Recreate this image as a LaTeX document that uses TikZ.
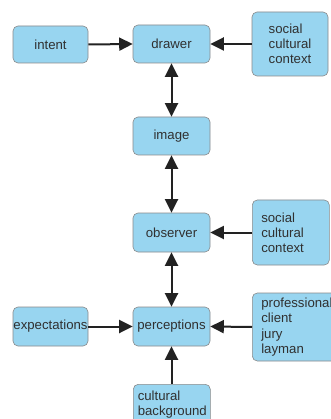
\documentclass[tikz,border=0pt]{standalone}
\usepackage{fontspec}
\setmainfont{Liberation Sans}
\usetikzlibrary{arrows.meta}
\definecolor{boxfill}{HTML}{98D5F0}
\definecolor{boxline}{HTML}{8A8A8A}
\definecolor{txtcol}{HTML}{303030}
\definecolor{arrcol}{HTML}{222222}
\tikzset{
  box/.style={draw=boxline, fill=boxfill, line width=0.6pt, rounded corners=5pt,
    text=txtcol, font=\fontsize{13.2}{15.2}\selectfont, inner xsep=0pt, inner ysep=0pt},
  multibox/.style={box, align=left},
  arr/.style={draw=arrcol, line width=2pt, -{Triangle[length=13.5pt,width=13pt]}},
  darr/.style={draw=arrcol, line width=2pt, {Triangle[length=13.5pt,width=13pt]}-{Triangle[length=13.5pt,width=13pt]}}
}
\begin{document}
\begin{tikzpicture}[x=1pt,y=-1pt]
\useasboundingbox (0,0) rectangle (330,419);
\fill[white] (0,0) rectangle (330,419);
\node[box, minimum width=75pt, minimum height=37pt] (intent) at (50.5,44.5) {intent};
\node[box, minimum width=77pt, minimum height=38pt] (drawer) at (171.5,44) {drawer};
\node[multibox, minimum width=76pt, minimum height=64pt] (soc1) at (290,44) {social\\cultural\\context};
\node[box, minimum width=77pt, minimum height=38pt] (image) at (171.5,136) {image};
\node[box, minimum width=77pt, minimum height=39pt] (observer) at (171.5,232.5) {observer};
\node[multibox, anchor=west, text width=59pt, inner xsep=9pt, minimum height=65pt] (soc2) at (252,232.5) {social\\cultural\\context};
\node[box, minimum width=75pt, minimum height=39pt] (expect) at (50.5,326.5) {expectations};
\node[box, minimum width=77pt, minimum height=39pt] (percept) at (171.5,326.5) {perceptions};
\node[multibox, anchor=west, text width=75pt, inner xsep=9pt, minimum height=68pt] (prof) at (252,327) {professional\\client\\jury\\layman};
\node[multibox, anchor=north west, text width=68pt, inner xsep=4.5pt, inner ysep=6.5pt] (cult) at (133,384) {cultural\\background};
\draw[arr] (intent.east) -- (drawer.west);
\draw[arr] (soc1.west) -- (drawer.east);
\draw[darr] (drawer.south) -- (image.north);
\draw[darr] (image.south) -- (observer.north);
\draw[arr] (soc2.west) -- (observer.east);
\draw[darr] (observer.south) -- (percept.north);
\draw[arr] (expect.east) -- (percept.west);
\draw[arr] (prof.west) -- (percept.east);
\draw[arr] (cult.north -| percept.south) -- (percept.south);
\end{tikzpicture}
\end{document}
